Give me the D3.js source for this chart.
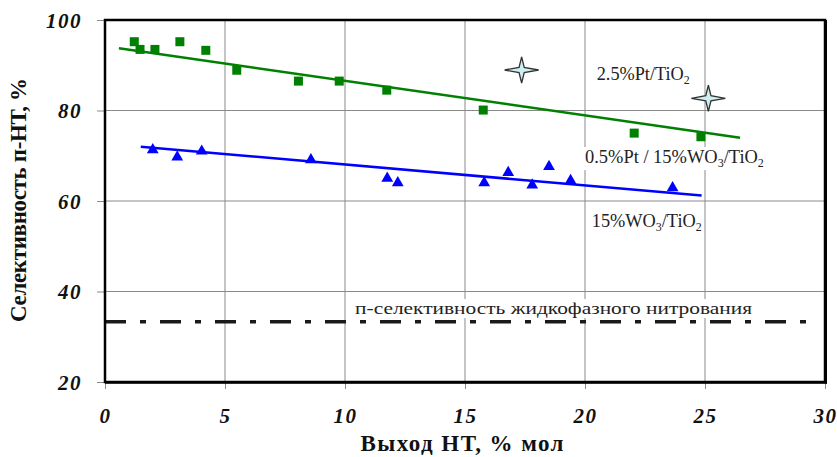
<!DOCTYPE html>
<html><head><meta charset="utf-8">
<script src="https://cdn.jsdelivr.net/npm/d3@7"></script>
<style>
body{margin:0;background:#fff;}
svg{display:block;}
</style></head>
<body><svg id="c" width="837" height="457" font-family="Liberation Serif"></svg>
<script>
// ---- data ----
const xTicks = [0, 5, 10, 15, 20, 25, 30];
const yTicks = [20, 40, 60, 80, 100];
const xLabel = "Выход НТ, % мол";
const yLabel = "Селективность п-НТ, %";

// 0.5%Pt / 15%WO3/TiO2 (green squares)
const ptwX = [1.22, 1.46, 2.08, 3.12, 4.2, 5.49, 8.06, 9.76, 11.74, 15.76, 22.05, 24.83];
const ptwY = [95.2, 93.5, 93.5, 95.2, 93.3, 88.9, 86.5, 86.5, 84.5, 80.1, 75.0, 74.2];
const ptwTrendX = [0.58, 26.46];
const ptwTrendY = [93.75, 74.0];

// 15%WO3/TiO2 (blue triangles)
const wX = [1.99, 3.01, 4.03, 8.58, 11.76, 12.2, 15.8, 16.8, 17.8, 18.5, 19.4, 23.65];
const wY = [71.3, 69.7, 71.0, 69.1, 65.0, 64.0, 64.0, 66.3, 63.5, 67.6, 64.5, 62.9];
const wTrendX = [1.49, 24.86];
const wTrendY = [72.0, 61.2];

// 2.5%Pt/TiO2 (stars)
const ptX = [17.36, 25.14];
const ptY = [88.95, 82.7];

// liquid-phase nitration selectivity
const liquidY = 33.3;
const liquidX = [0, 29.5];

// annotations: text parts (text, kind), anchor x,y in data units
const annTexts = [
  [["2.5%Pt/TiO", ""], ["2", "sub"]],
  [["0.5%Pt / 15%WO", ""], ["3", "sub"], ["/TiO", ""], ["2", "sub"]],
  [["15%WO", ""], ["3", "sub"], ["/TiO", ""], ["2", "sub"]],
  [["п-селективность  жидкофазного  нитрования", ""]]
];
const annX = [20.49, 20.0, 20.28, 10.42];
const annY = [86.74, 68.4, 54.3, 35.03];
const annW = [93, 179, 110, 397];

// ---- layout ----
const FONT = "Liberation Serif";
const svg = d3.select("#c");
const L = 105, R = 825, T = 20, B = 382;
const x = d3.scaleLinear().domain([0, 30]).range([L, R]);
const y = d3.scaleLinear().domain([20, 100]).range([B, T]);

// grid
const g = svg.append("g");
g.selectAll(".gx").data(xTicks.slice(1, -1)).enter().append("line")
  .attr("x1", d => x(d)).attr("x2", d => x(d)).attr("y1", T).attr("y2", B)
  .attr("stroke", "#8a8a8a").attr("stroke-width", 1);
g.selectAll(".gy").data(yTicks.slice(1, -1)).enter().append("line")
  .attr("x1", L).attr("x2", R).attr("y1", d => y(d)).attr("y2", d => y(d))
  .attr("stroke", "#8a8a8a").attr("stroke-width", 1);

// axes
const ax = svg.append("g").attr("transform", `translate(0,${B})`)
  .call(d3.axisBottom(x).tickValues(xTicks).tickSize(7).tickFormat(d3.format("d")));
const ay = svg.append("g").attr("transform", `translate(${L},0)`)
  .call(d3.axisLeft(y).tickValues(yTicks).tickSize(8).tickPadding(15).tickFormat(d3.format("d")));
[ax, ay].forEach(a => {
  a.attr("font-family", FONT).attr("font-size", 21).attr("font-weight", "bold").attr("font-style", "italic");
  a.select(".domain").remove();
  a.selectAll(".tick line").attr("stroke", "#8a8a8a");
  a.selectAll(".tick text").attr("fill", "#111").attr("font-family", FONT)
    .attr("font-weight", "bold").attr("font-style", "italic").attr("font-size", 21)
    .attr("letter-spacing", 1.5);
});
ax.selectAll(".tick text").attr("dy", null).attr("y", 41);
ay.selectAll(".tick text").attr("dy", "0.35em").attr("x", -23);

// liquid line
svg.append("line")
  .attr("x1", x(liquidX[0])).attr("x2", x(liquidX[1]))
  .attr("y1", y(liquidY)).attr("y2", y(liquidY))
  .attr("stroke", "#1a1a1a").attr("stroke-width", 3.5)
  .attr("stroke-dasharray", "21,14,6,14");

// annotations with white backgrounds
annTexts.forEach((parts, i) => {
  const grp = svg.append("g");
  const t = grp.append("text").attr("x", x(annX[i])).attr("y", y(annY[i]))
    .attr("fill", "#222").attr("font-family", FONT).attr("font-size", 17);
  let prevSub = false;
  parts.forEach(p => {
    const ts = t.append("tspan").text(p[0]);
    if (p[1] === "sub") { ts.attr("dy", 4).attr("font-size", "0.65em"); prevSub = true; }
    else if (prevSub) { ts.attr("dy", -4); prevSub = false; }
  });
  const w = t.node().getComputedTextLength();
  if (i === 3) {
    t.attr("textLength", annW[i]).attr("lengthAdjust", "spacingAndGlyphs");
  } else {
    t.attr("font-size", 17 * annW[i] / w);
  }
  const bb = t.node().getBBox();
  grp.insert("rect", "text").attr("x", bb.x - 2).attr("y", bb.y)
    .attr("width", bb.width + 4).attr("height", bb.height).attr("fill", "#fff");
});

// trend lines
const line = d3.line().x(d => x(d[0])).y(d => y(d[1]));
svg.append("path").datum(d3.zip(ptwTrendX, ptwTrendY)).attr("d", line)
  .attr("stroke", "#008000").attr("stroke-width", 2.5).attr("fill", "none");
svg.append("path").datum(d3.zip(wTrendX, wTrendY)).attr("d", line)
  .attr("stroke", "#0000ff").attr("stroke-width", 2.5).attr("fill", "none");

// markers
svg.selectAll(".sq").data(d3.zip(ptwX, ptwY)).enter().append("rect")
  .attr("x", d => x(d[0]) - 4.5).attr("y", d => y(d[1]) - 4.5)
  .attr("width", 9).attr("height", 9).attr("fill", "#008000");
svg.selectAll(".tr").data(d3.zip(wX, wY)).enter().append("path")
  .attr("transform", d => `translate(${x(d[0])},${y(d[1])})`)
  .attr("d", d3.symbol().type(d3.symbolTriangle).size(60)).attr("fill", "#0000ff");

const star4 = {
  draw(ctx) {
    const a = 17, b = 13, c = 2.6;
    ctx.moveTo(-a, 0); ctx.lineTo(-c, -c); ctx.lineTo(0, -b); ctx.lineTo(c, -c);
    ctx.lineTo(a, 0); ctx.lineTo(c, c); ctx.lineTo(0, b); ctx.lineTo(-c, c); ctx.closePath();
  }
};
svg.selectAll(".st").data(d3.zip(ptX, ptY)).enter().append("path")
  .attr("transform", d => `translate(${x(d[0])},${y(d[1])})`)
  .attr("d", d3.symbol().type(star4)).attr("fill", "#cdeff2")
  .attr("stroke", "#333").attr("stroke-width", 1.3);

// frame
svg.append("rect").attr("x", L).attr("y", T).attr("width", R - L).attr("height", B - T)
  .attr("fill", "none").attr("stroke", "#000").attr("stroke-width", 2.5);
svg.append("line").attr("x1", R + 1).attr("x2", R + 1).attr("y1", T).attr("y2", B + 1.5)
  .attr("stroke", "#000").attr("stroke-width", 2);
svg.append("line").attr("x1", L).attr("x2", R + 2).attr("y1", B + 1).attr("y2", B + 1)
  .attr("stroke", "#000").attr("stroke-width", 1.5);

// titles
svg.append("text").attr("x", 462).attr("y", 451).attr("text-anchor", "middle")
  .attr("font-family", FONT).attr("font-size", 23).attr("font-weight", "bold")
  .attr("textLength", 203).attr("lengthAdjust", "spacing")
  .attr("fill", "#111").text(xLabel);
svg.append("text").attr("transform", "translate(26,200) rotate(-90)").attr("text-anchor", "middle")
  .attr("font-family", FONT).attr("font-size", 23).attr("font-weight", "bold")
  .attr("textLength", 244).attr("lengthAdjust", "spacing")
  .attr("fill", "#111").text(yLabel);
</script></body></html>
